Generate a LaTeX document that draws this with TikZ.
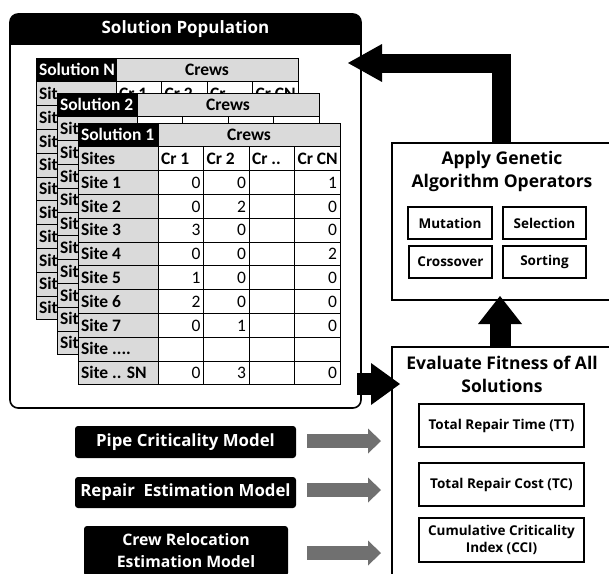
\documentclass[tikz,border=0pt]{standalone}
\usepackage{fontspec}
\setmainfont{Open Sans}
\newfontfamily\tabfont{Carlito}
\usetikzlibrary{arrows.meta}
\definecolor{cellgray}{RGB}{218,218,218}
\definecolor{arrgray}{RGB}{112,112,112}
\newcommand\tfb{\tabfont\bfseries\fontsize{17.5}{18}\selectfont}
\newcommand\tfr{\tabfont\fontsize{17.5}{18}\selectfont}
\newcommand\titlefont{\bfseries\fontsize{17.5}{23.5}\selectfont}
\newcommand\poptitlefont{\bfseries\fontsize{17}{20}\selectfont}
\newcommand\subfont{\bfseries\fontsize{13.5}{17}\selectfont}
\newcommand\modfont{\bfseries\fontsize{16.8}{22}\selectfont}
\newcommand\crewfont{\bfseries\fontsize{15.8}{22}\selectfont}
\newcommand\lw[1]{\makebox[74pt][l]{#1}}
\newcommand\cw[1]{\makebox[39.5pt][l]{#1}}
\newcommand\nw[1]{\makebox[39.5pt][r]{#1}}
\newif\ifnums
\newif\ifcollabs
\newcommand\srow[7]{%
\node[namecell] (#1-#2-0) at (0,#2*23.8) {\lw{#3}};
\node[numcell] (#1-#2-1) at (80,#2*23.8) {\nw{\ifnums#4\fi}};
\node[numcell] (#1-#2-2) at (125.5,#2*23.8) {\nw{\ifnums#5\fi}};
\node[numcell] (#1-#2-3) at (171,#2*23.8) {\nw{\ifnums#6\fi}};
\node[numcell] (#1-#2-4) at (216.5,#2*23.8) {\nw{\ifnums#7\fi}};}
% #1 prefix, #2 x, #3 y, #4 label, #5 Sites, #6..#14 site labels
\newcommand\soltab[5]{%
\begin{scope}[shift={(#2,#3)}]
\node[blackcell] (#1-h0) at (0,0) {\lw{#4}};
\node[crewcell] (#1-h1) at (80,0) {\makebox[176pt][c]{Crews}};
\node[namecell] (#1-c0) at (0,23.8) {\lw{#5}};
\node[collab] (#1-c1) at (80,23.8) {\cw{\ifcollabs Cr 1\fi}};
\node[collab] (#1-c2) at (125.5,23.8) {\cw{\ifcollabs Cr 2\fi}};
\node[collab] (#1-c3) at (171,23.8) {\cw{\ifcollabs Cr ..\fi}};
\node[collab] (#1-c4) at (216.5,23.8) {\cw{\ifcollabs Cr CN\fi}};
\end{scope}}
\newcommand\fronttab{%
\begin{scope}[shift={(78,123)}]
\srow{t1}{2}{Site 1}{0}{0}{}{1}
\srow{t1}{3}{Site 2}{0}{2}{}{0}
\srow{t1}{4}{Site 3}{3}{0}{}{0}
\srow{t1}{5}{Site 4}{0}{0}{}{2}
\srow{t1}{6}{Site 5}{1}{0}{}{0}
\srow{t1}{7}{Site 6}{2}{0}{}{0}
\srow{t1}{8}{Site 7}{0}{1}{}{0}
\srow{t1}{9}{Site ....}{}{}{}{}
\srow{t1}{10}{Site .. SN}{0}{3}{}{0}
\end{scope}}
\newcommand\backtab[3]{%
\begin{scope}[shift={(#2,#3)}]
\foreach \r in {2,...,10}{\srow{#1}{\r}{Sit}{}{}{}{}}
\end{scope}}
\begin{document}
\begin{tikzpicture}[x=1pt,y=-1pt,
  every node/.style={inner sep=0pt, outer sep=0pt},
  cellbase/.style={draw=black, line width=0.9pt, anchor=north west, minimum height=23.8pt, inner xsep=3pt, inner ysep=0pt, text height=11.5pt, text depth=0pt},
  namecell/.style={cellbase, fill=cellgray, font=\tfb},
  blackcell/.style={cellbase, fill=black, text=white, font=\tfb},
  crewcell/.style={cellbase, fill=cellgray, font=\tfb},
  collab/.style={cellbase, fill=white, font=\tfb},
  numcell/.style={cellbase, fill=white, font=\tfr},
  bigbox/.style={draw=black, line width=1.5pt, anchor=north west},
  opbox/.style={draw=black, line width=1.4pt, anchor=north west, font=\subfont, align=center},
  modbox/.style={fill=black, text=white, rounded corners=3pt, anchor=north west, font=\modfont, align=center},
  bigarrow/.style={draw=black, line join=miter},
  grayarrow/.style={draw=arrgray, line width=14pt, -{Triangle[length=13pt,width=25pt,line width=0pt]}}
]
\useasboundingbox (0,0) rectangle (609,573);
% Solution population box
\begin{scope}
\clip[rounded corners=8pt] (10,14) rectangle (361,408);
\node[fill=black, text=white, anchor=north west, minimum width=351pt, minimum height=31pt, font=\poptitlefont] (pophead) at (10,14) {Solution Population};
\end{scope}
\node[draw=black, line width=1.6pt, rounded corners=8pt, anchor=north west, minimum width=351pt, minimum height=394pt] (pop) at (10,14) {};
% tables
\collabstrue
\soltab{tN}{36}{58}{Solution N}{Sit}
\backtab{tN}{36}{58}
\collabsfalse
\soltab{t2}{57}{93}{Solution 2}{Sit}
\backtab{t2}{57}{93}
\numstrue\collabstrue
\soltab{t1}{78}{123}{Solution 1}{Sites}
\fronttab
% GA box
\node[bigbox, minimum width=220pt, minimum height=157pt] (ga) at (392,143) {};
\node[font=\titlefont, align=center] (gatitle) at (502,171.5) {Apply Genetic\\Algorithm Operators};
\node[opbox, minimum width=84pt, minimum height=32pt] (mut) at (408,207) {Mutation};
\node[opbox, minimum width=83pt, minimum height=32pt] (sel) at (503,207) {Selection};
\node[opbox, minimum width=83pt, minimum height=32pt] (cro) at (409,246) {Crossover};
\node[opbox, minimum width=83pt, minimum height=32pt] (sor) at (503,246) {Sorting};
% Evaluate box
\node[bigbox, minimum width=220pt, minimum height=240pt] (ev) at (392,347) {};
\node[font=\titlefont, align=center] (evtitle) at (502,374.5) {Evaluate Fitness of All\\Solutions};
\node[opbox, minimum width=165pt, minimum height=43pt] (tt) at (419,404) {Total Repair Time (TT)};
\node[opbox, minimum width=165pt, minimum height=43pt] (tc) at (419,463) {Total Repair Cost (TC)};
\node[opbox, minimum width=165pt, minimum height=44pt] (cci) at (419,518) {Cumulative Criticality\\Index (CCI)};
% model boxes
\node[modbox, minimum width=221pt, minimum height=32pt] (pipe) at (75,426) {Pipe Criticality Model};
\node[modbox, minimum width=221pt, minimum height=31pt] (rep) at (75,477) {Repair~ Estimation Model};
\node[modbox, minimum width=204pt, minimum height=50pt, font=\crewfont] (crew) at (84,526) {Crew Relocation\\Estimation Model};
% big arrows
\coordinate (tipA) at (348,63);
\draw[bigarrow, line width=19pt, -{Triangle[length=34pt,width=38pt,line width=0pt]}] ([xshift=-1pt]ga.north) |- (tipA);
\coordinate (tipB) at (500,296);
\draw[bigarrow, line width=21pt, -{Triangle[length=28pt,width=44pt,line width=0pt]}] ([xshift=-2pt]ev.north) -- (tipB);
\coordinate (startC) at (357,384);
\coordinate (tipC) at (400,384);
\draw[bigarrow, line width=22pt, -{Triangle[length=29pt,width=42pt,line width=0pt]}] (startC) -- (tipC);
% gray arrows
\coordinate (g1s) at (307,441); \coordinate (g1e) at (381,441);
\coordinate (g2s) at (307,490); \coordinate (g2e) at (381,490);
\coordinate (g3s) at (307,553); \coordinate (g3e) at (381,553);
\draw[grayarrow] (g1s) -- (g1e);
\draw[grayarrow] (g2s) -- (g2e);
\draw[grayarrow] (g3s) -- (g3e);
\end{tikzpicture}
\end{document}
